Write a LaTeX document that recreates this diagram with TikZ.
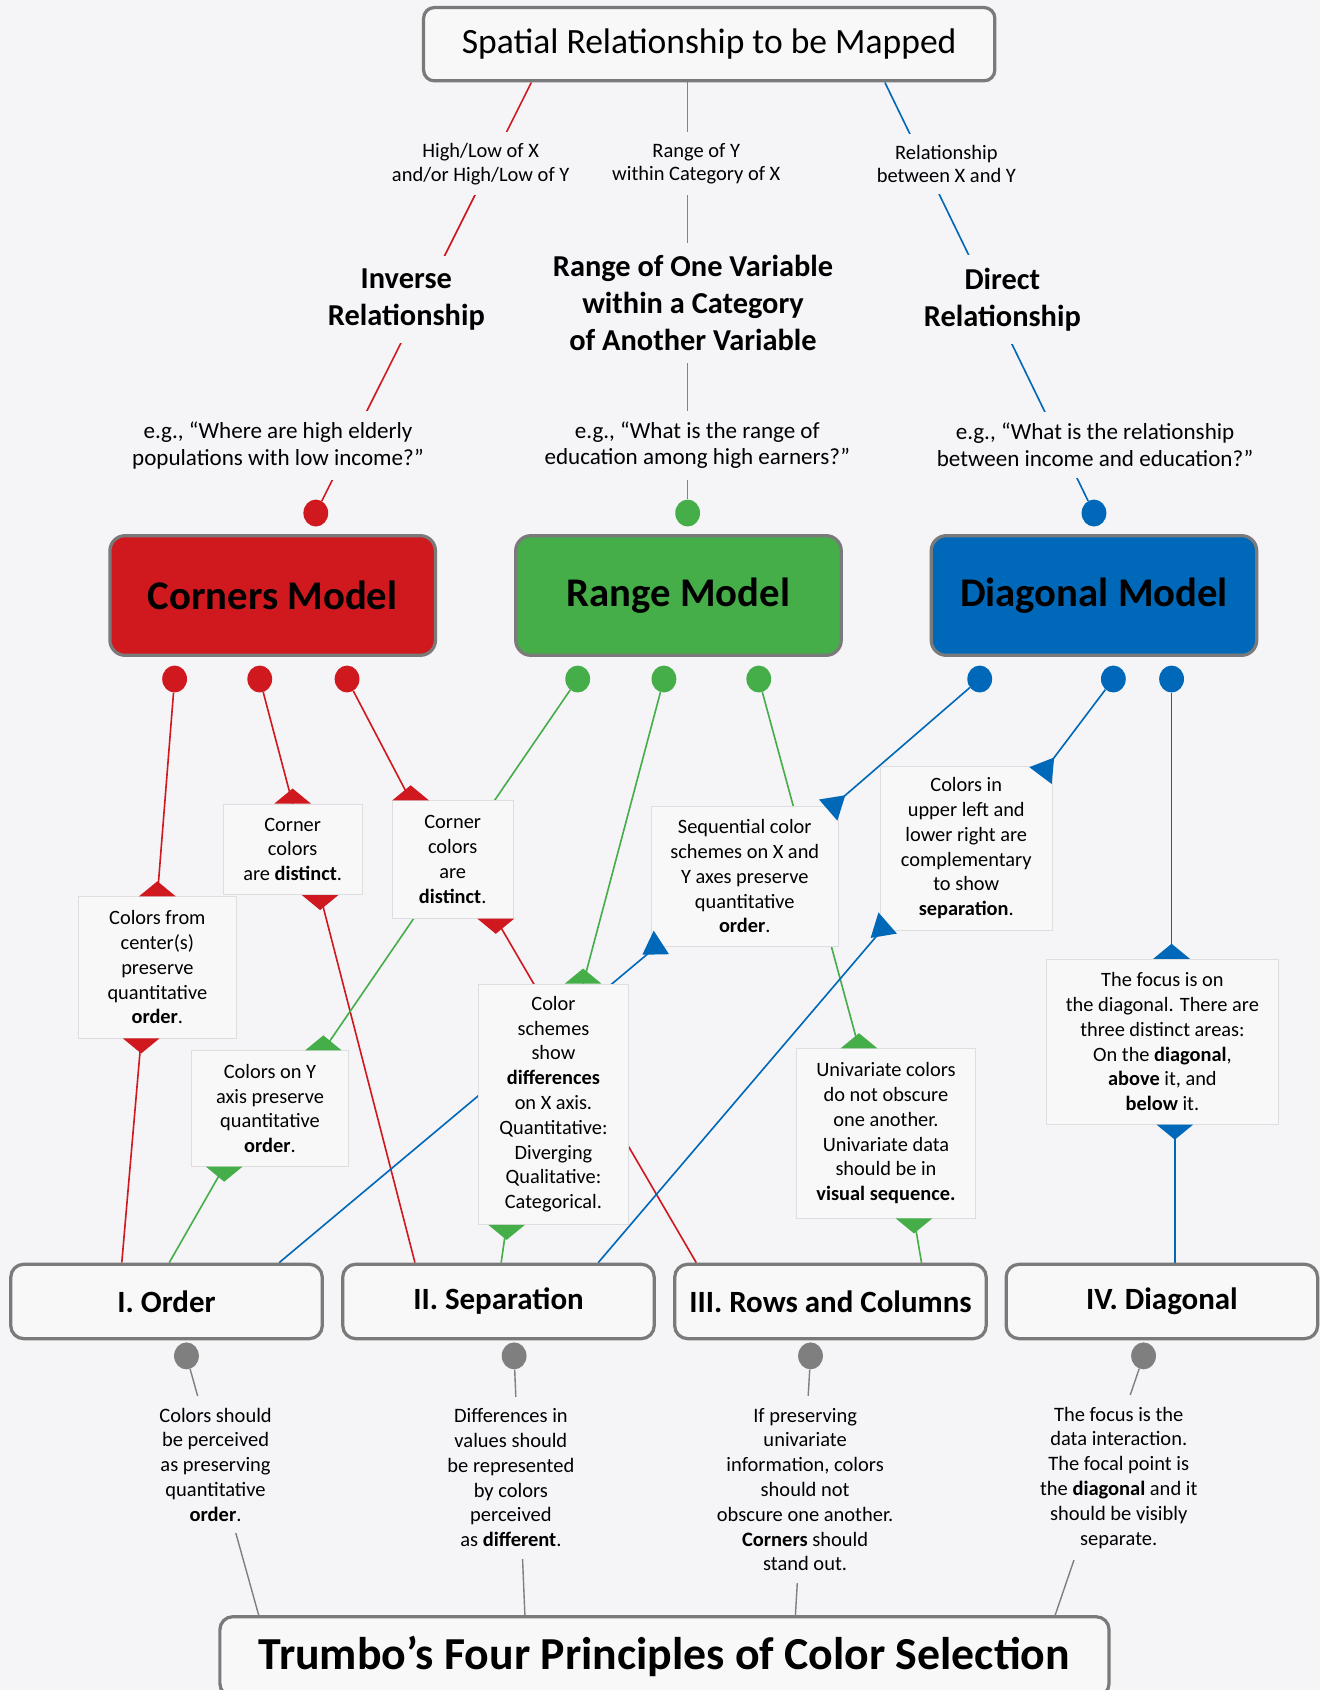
\documentclass[tikz,border=0pt]{standalone}
\usepackage{fontspec}
\setmainfont{Carlito}
\usetikzlibrary{shapes.geometric,calc}
\definecolor{bgc}{HTML}{F5F4F7}
\definecolor{cred}{HTML}{D0191F}
\definecolor{cgreen}{HTML}{45AE49}
\definecolor{cblue}{HTML}{0068B8}
\definecolor{cgray}{HTML}{7F7F7F}
\definecolor{boxborder}{HTML}{7A7A7A}
\definecolor{notefill}{HTML}{F8F8F9}
\definecolor{noteborder}{HTML}{DEDEE0}
\pgfdeclarelayer{back}
\pgfdeclarelayer{lines}
\pgfsetlayers{back,lines,main}
\newcommand\tritop[2]{\fill[#1] ([xshift=-17pt]#2) -- ([xshift=17pt]#2) -- ([yshift=14pt]#2) -- cycle;}
\newcommand\tribot[2]{\fill[#1] ([xshift=-17pt]#2) -- ([xshift=17pt]#2) -- ([yshift=-14pt]#2) -- cycle;}
\newcommand\tridir[3]{\fill[#1] ($(#2)!13pt!90:(#3)$) -- ($(#2)!21pt!(#3)$) -- ($(#2)!13pt!-90:(#3)$) -- cycle;}
\begin{document}
\begin{tikzpicture}[x=1pt,y=-1pt,
  notebox/.style={draw=noteborder, fill=notefill, line width=0.8pt, align=center, inner sep=0pt, font=\fontsize{18.9}{23}\selectfont},
  lbl/.style={fill=bgc, align=center, inner xsep=3pt, inner ysep=10pt, font=\fontsize{19}{22}\selectfont},
  relbl/.style={fill=bgc, align=center, inner xsep=3pt, inner ysep=12pt, font=\fontsize{28.2}{34}\selectfont\bfseries},
  eglbl/.style={fill=bgc, align=center, inner xsep=3pt, inner ysep=10pt, font=\fontsize{21.4}{25}\selectfont},
  btxt/.style={fill=bgc, align=center, inner xsep=3pt, inner ysep=11pt, font=\fontsize{19}{23}\selectfont},
  dot/.style={ellipse, minimum width=23pt, minimum height=25pt, inner sep=0pt},
  model/.style={draw=boxborder, line width=3pt, rounded corners=14pt, minimum width=302pt, minimum height=111pt, font=\fontsize{37.8}{42}\selectfont\bfseries},
  catbox/.style={draw=boxborder, fill=notefill, line width=3pt, rounded corners=12pt, minimum width=289pt, minimum height=69pt, font=\fontsize{28.7}{32}\selectfont\bfseries},
  redln/.style={draw=cred, line width=1.5pt},
  grnln/.style={draw=cgreen, line width=1.5pt},
  bluln/.style={draw=cblue, line width=1.5pt},
  grayln/.style={draw=cgray, line width=1.3pt}
]
\begin{pgfonlayer}{back}
\fill[bgc] (0,0) rectangle (1225,1568);
\end{pgfonlayer}
\useasboundingbox (0,0) rectangle (1225,1568);

% top
\node[draw=boxborder, fill=notefill, line width=3pt, rounded corners=10pt, minimum width=530pt, minimum height=68pt, font=\fontsize{33}{37}\selectfont] (top) at (658,41) {Spatial Relationship to be Mapped};

\node[lbl] (lab1) at (446,152) {High/Low of X\\and/or High/Low of Y};
\node[lbl] (lab2) at (646,152) {Range of Y\\within Category of X};
\node[lbl] (lab3) at (878,152) {Relationship\\between X and Y};

\node[relbl] (rel1) at (377,278) {Inverse\\Relationship};
\node[relbl] (rel2) at (643,281) {Range of One Variable\\within a Category\\of Another Variable};
\node[relbl] (rel3) at (930,278) {Direct\\Relationship};

\node[eglbl] (eg1) at (258,413) {e.g., “Where are high elderly\\populations with low income?”};
\node[eglbl] (eg2) at (647,413) {e.g., “What is the range of\\education among high earners?”};
\node[eglbl] (eg3) at (1016,413) {e.g., “What is the relationship\\between income and education?”};

\node[dot, fill=cred] (d1) at (293,476) {};
\node[dot, fill=cgreen] (d2) at (638,476) {};
\node[dot, fill=cblue] (d3) at (1015,476) {};

% models
\node[model, fill=cred] (corners) at (253,552.5) {Corners Model};
\node[model, fill=cgreen] (range) at (629.5,552.5) {Range Model};
\node[model, fill=cblue] (diagm) at (1015,552.5) {Diagonal Model};

\node[dot, fill=cred] (r1) at (162,630) {};
\node[dot, fill=cred] (r2) at (241,630) {};
\node[dot, fill=cred] (r3) at (322,630) {};
\node[dot, fill=cgreen] (g1) at (536,630) {};
\node[dot, fill=cgreen] (g2) at (616,630) {};
\node[dot, fill=cgreen] (g3) at (704,630) {};
\node[dot, fill=cblue] (b1) at (909,630) {};
\node[dot, fill=cblue] (b2) at (1033,630) {};
\node[dot, fill=cblue] (b3) at (1087,630) {};

% notes
\node[notebox, minimum width=146pt, minimum height=131pt] (A) at (146,897.5) {Colors from\\center(s)\\preserve\\quantitative\\\textbf{order}.};
\node[notebox, minimum width=129pt, minimum height=84pt] (B) at (271.5,788) {Corner\\colors\\are \textbf{distinct}.};
\node[notebox, minimum width=112pt, minimum height=109pt] (C) at (420,797.5) {Corner\\colors\\are\\\textbf{distinct}.};
\node[notebox, minimum width=145pt, minimum height=107pt] (D) at (250.5,1028.5) {Colors on Y\\axis preserve\\quantitative\\\textbf{order}.};
\node[notebox, minimum width=139pt, minimum height=223pt] (E) at (513.5,1024.5) {Color\\schemes\\show\\\textbf{differences}\\on X axis.\\Quantitative:\\Diverging\\Qualitative:\\Categorical.};
\node[notebox, minimum width=174pt, minimum height=130pt] (F) at (691,813) {Sequential color\\schemes on X and\\Y axes preserve\\quantitative\\\textbf{order}.};
\node[notebox, minimum width=159pt, minimum height=152pt] (G) at (896.5,787) {Colors in\\upper left and\\lower right are\\complementary\\to show\\\textbf{separation}.};
\node[notebox, minimum width=166pt, minimum height=157pt] (H) at (822,1051.5) {Univariate colors\\do not obscure\\one another.\\Univariate data\\should be in\\\textbf{visual sequence.}};
\node[notebox, minimum width=215pt, minimum height=153pt] (I) at (1078.5,966.5) {The focus is on\\the diagonal. There are\\three distinct areas:\\On the \textbf{diagonal},\\\textbf{above} it, and\\\textbf{below} it.};

% categories
\node[catbox] (ord) at (154.5,1207.5) {I. Order};
\node[catbox] (sep) at (462.5,1207.5) {II. Separation};
\node[catbox] (rows) at (770.5,1207.5) {III. Rows and Columns};
\node[catbox] (diag) at (1078,1207.5) {IV. Diagonal};

\node[dot, fill=cgray] (k1) at (173,1258) {};
\node[dot, fill=cgray] (k2) at (477,1258) {};
\node[dot, fill=cgray] (k3) at (752,1258) {};
\node[dot, fill=cgray] (k4) at (1061,1258) {};

\node[btxt] (t1) at (200,1359) {Colors should\\be perceived\\as preserving\\quantitative\\\textbf{order}.};
\node[btxt] (t2) at (474,1371) {Differences in\\values should\\be represented\\by colors\\perceived\\as \textbf{different}.};
\node[btxt] (t3) at (747,1382) {If preserving\\univariate\\information, colors\\should not\\obscure one another.\\\textbf{Corners} should\\stand out.};
\node[btxt] (t4) at (1038,1371) {The focus is the\\data interaction.\\The focal point is\\the \textbf{diagonal} and it\\should be visibly\\separate.};

\node[draw=boxborder, fill=notefill, line width=3pt, rounded corners=12pt, minimum width=825pt, minimum height=74pt, font=\fontsize{42.5}{46}\selectfont\bfseries] (bottom) at (616.5,1537) {Trumbo’s Four Principles of Color Selection};

% connection points
\coordinate (At) at (A.north);
\coordinate (Ab) at ([xshift=-15pt]A.south);
\coordinate (Bt) at (B.north);
\coordinate (Bb) at ([xshift=25.5pt]B.south);
\coordinate (Ct) at ([xshift=-39pt]C.north);
\coordinate (Cb) at ([xshift=40pt]C.south);
\coordinate (Dt) at ([xshift=49.5pt]D.north);
\coordinate (Db) at ([xshift=-42.5pt]D.south);
\coordinate (Et) at ([xshift=27.5pt]E.north);
\coordinate (Eb) at ([xshift=-43.5pt]E.south);
\coordinate (Ht) at ([xshift=-25pt]H.north);
\coordinate (Hb) at ([xshift=26pt]H.south);
\coordinate (It) at ([xshift=8.5pt]I.north);
\coordinate (Ib) at ([xshift=11.5pt]I.south);
\coordinate (Fne) at ([shift={(-10,4)}]F.north east);
\coordinate (Gne) at ([shift={(-11,9)}]G.north east);
\coordinate (Fsw) at ([shift={(10,-4)}]F.south west);
\coordinate (Gsw) at ([shift={(7,-7)}]G.south west);

\begin{pgfonlayer}{lines}
\draw[redln] ([xshift=-165pt]top.south) -- (d1);
\draw[grnln] ([xshift=-20pt]top.south) -- (d2);
\draw[bluln] ([xshift=163pt]top.south) -- (d3);

\draw[redln] (r1) -- (At);
\draw[redln] (Ab) -- ([xshift=-41.5pt]ord.north);
\draw[redln] (r2) -- (Bt);
\draw[redln] (Bb) -- ([xshift=-77.5pt]sep.north);
\draw[redln] (r3) -- (Ct);
\draw[redln] (Cb) -- ([xshift=-124.5pt]rows.north);

\draw[grnln] (g1) -- (Dt);
\draw[grnln] (Db) -- ([xshift=2.5pt]ord.north);
\draw[grnln] (g2) -- (Et);
\draw[grnln] (Eb) -- ([xshift=2.5pt]sep.north);
\draw[grnln] (g3) -- (Ht);
\draw[grnln] (Hb) -- ([xshift=84.5pt]rows.north);

\draw[bluln] (b1) -- (Fne);
\draw[bluln] (b2) -- (Gne);
\draw[bluln] (b3) -- (It);
\draw[bluln] (Ib) -- ([xshift=12pt]diag.north);
\draw[bluln] (Fsw) -- ([xshift=104.5pt]ord.north);
\draw[bluln] (Gsw) -- ([xshift=92.5pt]sep.north);

\draw[grayln] (k1) -- ([xshift=-376.5pt]bottom.north);
\draw[grayln] (k2) -- ([xshift=-129.5pt]bottom.north);
\draw[grayln] (k3) -- ([xshift=121.5pt]bottom.north);
\draw[grayln] (k4) -- ([xshift=362.5pt]bottom.north);
\end{pgfonlayer}

% arrow heads
\tritop{cred}{At} \tribot{cred}{Ab}
\tritop{cred}{Bt} \tribot{cred}{Bb}
\tritop{cred}{Ct} \tribot{cred}{Cb}
\tritop{cgreen}{Dt} \tribot{cgreen}{Db}
\tritop{cgreen}{Et} \tribot{cgreen}{Eb}
\tritop{cgreen}{Ht} \tribot{cgreen}{Hb}
\tritop{cblue}{It} \tribot{cblue}{Ib}
\tridir{cblue}{Fne}{b1}
\tridir{cblue}{Gne}{b2}
\tridir{cblue}{Fsw}{ord.north}
\tridir{cblue}{Gsw}{sep.north}
\end{tikzpicture}
\end{document}
